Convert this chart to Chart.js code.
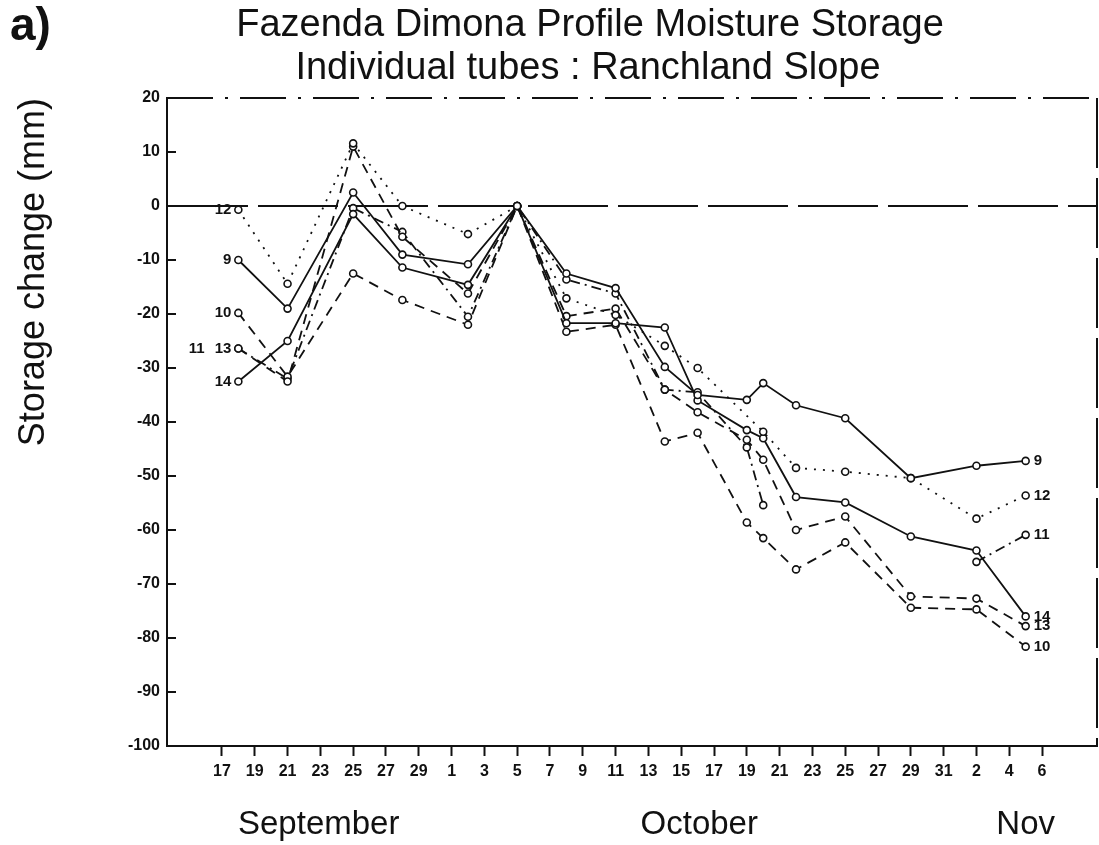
<!DOCTYPE html>
<html>
<head>
<meta charset="utf-8">
<script src="https://cdn.jsdelivr.net/npm/chart.js@4.4.1/dist/chart.umd.min.js"></script>
<style>
  html, body { margin: 0; padding: 0; background: #fff; }
  canvas { display: block; }
</style>
</head>
<body>
<canvas id="c" width="1099" height="845"></canvas>
<script>
// ---- Data (days counted from 17 September) ----
const measureDays = [1, 4, 8, 11, 15, 18, 21, 24, 27, 29, 32, 33, 35, 38, 42, 46, 49];
// Sep18 Sep21 Sep25 Sep28 Oct2 Oct5 Oct8 Oct11 Oct14 Oct16 Oct19 Oct20 Oct22 Oct25 Oct29 Nov2 Nov5
const tube9  = [-10, -19, 2.5, -9, -10.8, 0, -12.5, -15.2, -29.8, -35, -35.9, -32.8, -36.9, -39.3, -50.4, -48.1, -47.2];
const tube12 = [-0.7, -14.4, 11.6, 0, -5.2, 0, -17.1, -20.2, -25.9, -30, null, -41.8, -48.5, -49.2, -50.4, -57.9, -53.6];
const tube14 = [-32.5, -25, -1.5, -11.4, -14.6, 0, -21.7, -21.7, -22.5, -36, -41.5, -43, -53.9, -54.9, -61.2, -63.8, -76];
const tube13 = [-26.4, -32.5, 11, -5.7, -16.2, 0, -20.4, -19, -34, -38.2, -43.3, -47, -60, -57.5, -72.3, -72.7, -77.8];
const tube10 = [-19.8, -31.6, -12.5, -17.4, -22, 0, -23.3, -22, -43.6, -42, -58.6, -61.5, -67.3, -62.3, -74.4, -74.7, -81.6];
const tube11 = [-26.4, -32, -0.4, -4.8, -20.5, 0, -13.6, -16.2, -34, -34.5, -44.7, -55.4, null, null, null, -65.9, -60.9];

const tubeNames = ['9', '12', '14', '13', '10', '11'];

// ---- Axis ticks ----
const tickDays = [0, 2, 4, 6, 8, 10, 12, 14, 16, 18, 20, 22, 24, 26, 28, 30, 32, 34, 36, 38, 40, 42, 44, 46, 48, 50];
const tickLabels = ['17','19','21','23','25','27','29','1','3','5','7','9','11','13','15','17','19','21','23','25','27','29','31','2','4','6'];
const monthDays = [5.9, 29.1, 49.0];
const monthNames = ['September', 'October', 'Nov'];
const yTickValues = [20, 10, 0, -10, -20, -30, -40, -50, -60, -70, -80, -90, -100];

const INK = '#111';
const FONT = "'Liberation Sans', Arial, Helvetica, sans-serif";

function toPoints(vals) {
  return measureDays.map((d, i) => ({ x: d, y: vals[i] }));
}

const seriesVals = [tube9, tube12, tube14, tube13, tube10, tube11];
const dashes = [[], [2, 7], [], [10, 7], [10, 7], [10, 5, 2, 5]];

const datasets = seriesVals.map((vals, i) => ({
  label: tubeNames[i],
  data: toPoints(vals),
  borderColor: INK,
  borderWidth: 1.8,
  borderDash: dashes[i],
  pointRadius: 3.5,
  pointBorderWidth: 1.6,
  pointBackgroundColor: '#fff',
  pointBorderColor: INK,
  tension: 0,
  spanGaps: i === 1,
  clip: false
}));

const decor = {
  id: 'decor',
  beforeDatasetsDraw(chart) {
    const { ctx, chartArea: a, scales: { y } } = chart;
    ctx.save();
    ctx.strokeStyle = INK;
    ctx.lineWidth = 2;
    ctx.setLineDash([46, 12, 3, 12]);
    ctx.beginPath(); ctx.moveTo(a.left, a.top); ctx.lineTo(a.right, a.top); ctx.stroke();
    ctx.setLineDash([70, 10]);
    ctx.beginPath(); ctx.moveTo(a.right, a.top); ctx.lineTo(a.right, a.bottom); ctx.stroke();
    ctx.setLineDash([]);
    y.ticks.forEach(t => {
      if (t.value === 20 || t.value === -100) return;
      const py = y.getPixelForValue(t.value);
      ctx.beginPath(); ctx.moveTo(a.left, py); ctx.lineTo(a.left + 9, py); ctx.stroke();
    });
    ctx.restore();
  },
  afterDraw(chart) {
    const { ctx } = chart;
    ctx.save();
    ctx.fillStyle = INK;
    ctx.textBaseline = 'middle';
    // panel letter
    ctx.font = `bold 46px ${FONT}`;
    ctx.textAlign = 'left';
    ctx.fillText('a)', 10, 27);
    // titles
    ctx.font = `38px ${FONT}`;
    ctx.textAlign = 'center';
    ctx.fillText('Fazenda Dimona Profile Moisture Storage', 590, 26);
    ctx.fillText('Individual tubes : Ranchland Slope', 588, 69);
    // series labels
    ctx.font = `bold 15px ${FONT}`;
    const usedStarts = [];
    chart.data.datasets.forEach((ds, i) => {
      const meta = chart.getDatasetMeta(i);
      const pts = meta.data.filter((p, k) => ds.data[k].y !== null);
      if (!pts.length) return;
      const first = pts[0], last = pts[pts.length - 1];
      let sx = first.x - 7;
      usedStarts.forEach(u => { if (Math.abs(u.y - first.y) < 4) sx = Math.min(sx, u.x - u.w - 10); });
      ctx.textAlign = 'right';
      ctx.fillText(ds.label, sx, first.y);
      usedStarts.push({ x: sx, y: first.y, w: ctx.measureText(ds.label).width });
      ctx.textAlign = 'left';
      ctx.fillText(ds.label, last.x + 8, last.y);
    });
    ctx.restore();
  }
};

new Chart(document.getElementById('c'), {
  type: 'line',
  data: { datasets },
  plugins: [decor],
  options: {
    responsive: false,
    devicePixelRatio: 1,
    animation: false,
    layout: { padding: { top: 98, right: 2, left: 0, bottom: 0 }, autoPadding: false },
    plugins: { legend: { display: false }, tooltip: { enabled: false }, title: { display: false } },
    scales: {
      x: {
        type: 'linear',
        position: 'bottom',
        weight: 0,
        min: -3.35,
        max: 53.35,
        afterFit(s) { s.height = 45; },
        afterBuildTicks(s) { s.ticks = tickDays.map(v => ({ value: v })); },
        grid: { drawOnChartArea: false, drawTicks: true, tickLength: 10, tickWidth: 2, tickColor: INK, color: INK },
        border: { display: true, color: INK, width: 2 },
        ticks: {
          autoSkip: false, maxRotation: 0, minRotation: 0, padding: 6,
          color: INK, font: { family: FONT, size: 16, weight: 'bold' },
          callback: (v, i) => tickLabels[i]
        }
      },
      xMonth: {
        type: 'linear',
        position: 'bottom',
        weight: 1,
        min: -3.35,
        max: 53.35,
        afterFit(s) { s.height = 54; },
        afterBuildTicks(s) { s.ticks = monthDays.map(v => ({ value: v })); },
        grid: { display: false, drawTicks: false, drawOnChartArea: false },
        border: { display: false },
        ticks: {
          autoSkip: false, maxRotation: 0, minRotation: 0, padding: 14,
          color: INK, font: { family: FONT, size: 33 },
          callback: (v, i) => monthNames[i]
        }
      },
      y: {
        type: 'linear',
        position: 'left',
        min: -100,
        max: 20,
        afterFit(s) { s.width = 167; },
        afterBuildTicks(s) { s.ticks = yTickValues.map(v => ({ value: v })); },
        grid: {
          drawOnChartArea: true, drawTicks: false,
          color: c => (c.tick && c.tick.value === 0) ? INK : 'rgba(0,0,0,0)',
          lineWidth: 2
        },
        border: { display: true, color: INK, width: 2, dash: [80, 10] },
        ticks: {
          padding: 7, color: INK, font: { family: FONT, size: 16, weight: 'bold' },
          callback: v => String(v)
        },
        title: {
          display: true, text: 'Storage change (mm)', align: 'end',
          color: INK, font: { family: FONT, size: 36 }, padding: { top: 12, bottom: 0 }
        }
      }
    }
  }
});
</script>
</body>
</html>
